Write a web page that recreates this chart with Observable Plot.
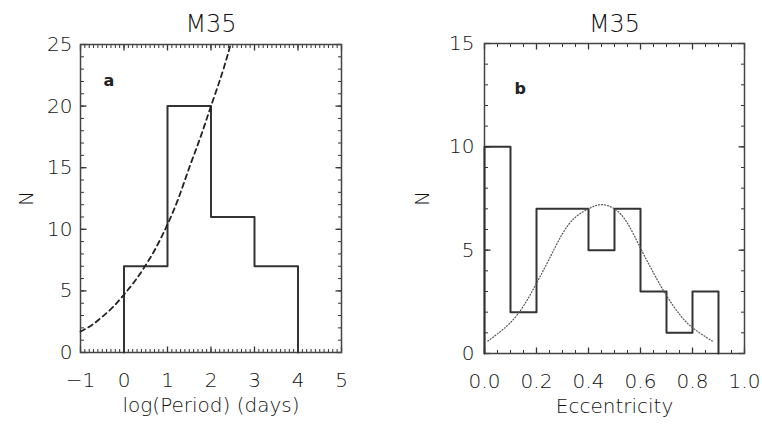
<!DOCTYPE html>
<html>
<head>
<meta charset="utf-8">
<script src="https://cdn.jsdelivr.net/npm/d3@7"></script>
<script src="https://cdn.jsdelivr.net/npm/@observablehq/plot@0.6"></script>
<style>
  html, body { margin: 0; padding: 0; background: #fff; }
  #wrap { display: flex; width: 762px; height: 424px; }
</style>
</head>
<body>
<div id="wrap"></div>
<script>
// ---- Panel a: log(Period) histogram ----
const periodEdges = [0, 1, 2, 3, 4];
const periodCounts = [7, 20, 11, 7];
const periodFitX = [-1, -0.75, -0.5, -0.25, 0, 0.25, 0.5, 0.75, 1, 1.25, 1.5, 1.75, 2, 2.25, 2.45];
const periodFitY = [1.7, 2.2, 2.9, 3.7, 4.7, 5.8, 7.1, 8.6, 10.4, 12.5, 15.0, 17.4, 20.0, 22.6, 25.0];
const periodTicks = [-1, 0, 1, 2, 3, 4, 5];
const periodCountTicks = [0, 5, 10, 15, 20, 25];

// ---- Panel b: eccentricity histogram ----
const eccEdges = [0, 0.1, 0.2, 0.3, 0.4, 0.5, 0.6, 0.7, 0.8, 0.9];
const eccCounts = [10, 2, 7, 7, 5, 7, 3, 1, 3];
const eccFitX = [0.013, 0.05, 0.1, 0.15, 0.2, 0.25, 0.3, 0.35, 0.4, 0.446, 0.5, 0.55, 0.6, 0.65, 0.7, 0.75, 0.8, 0.876];
const eccFitY = [0.6, 0.95, 1.5, 2.3, 3.4, 4.6, 5.8, 6.6, 7.0, 7.2, 7.0, 6.3, 5.1, 3.9, 2.8, 1.9, 1.25, 0.6];
const eccTicks = [0, 0.2, 0.4, 0.6, 0.8, 1.0];
const eccCountTicks = [0, 5, 10, 15];

const titles = ["M35", "M35"];
const panelLetters = ["a", "b"];
const xLabels = ["log(Period) (days)", "Eccentricity"];
const yLabel = "N";

function steps(edges, counts) {
  const pts = [{x: edges[0], y: 0}];
  counts.forEach((c, i) => { pts.push({x: edges[i], y: c}, {x: edges[i + 1], y: c}); });
  pts.push({x: edges[edges.length - 1], y: 0});
  return pts;
}
function pairs(xs, ys) { return xs.map((x, i) => ({x, y: ys[i]})); }

// inward box ticks on all four sides (IDL style); lengths in pixels converted to scale units
function boxTicks(xd, yd, xMajor, xMinor, yMajor, yMinor, fw, fh) {
  const M = 6, m = 3.5;
  const ky = (yd[1] - yd[0]) / fh, kx = (xd[1] - xd[0]) / fw;
  const segs = (major) => {
    const out = [];
    const lenX = (major ? M : m);
    for (const v of (major ? xMajor : xMinor)) {
      out.push({a: v, b: v, c: yd[0], d: yd[0] + lenX * ky});
      out.push({a: v, b: v, c: yd[1] - lenX * ky, d: yd[1]});
    }
    for (const v of (major ? yMajor : yMinor)) {
      out.push({a: xd[0], b: xd[0] + lenX * kx, c: v, d: v});
      out.push({a: xd[1] - lenX * kx, b: xd[1], c: v, d: v});
    }
    return out;
  };
  return [
    Plot.link(segs(false), {x1: "a", x2: "b", y1: "c", y2: "d", stroke: "#333", strokeWidth: 1}),
    Plot.link(segs(true), {x1: "a", x2: "b", y1: "c", y2: "d", stroke: "#333", strokeWidth: 1.3})
  ];
}

const font = {fontFamily: "DejaVu Sans", fontSize: "20px", color: "#111", background: "white", fontWeight: 200};

// Panel a
{
  const W = 381, H = 424, mL = 80, mR = 40, mT = 44, mB = 72;
  const fw = W - mL - mR, fh = H - mT - mB;
  const xd = [-1, 5], yd = [0, 25];
  const plot = Plot.plot({
    width: W, height: H, marginLeft: mL, marginRight: mR, marginTop: mT, marginBottom: mB,
    x: {domain: xd},
    y: {domain: yd},
    style: font,
    marks: [
      ...boxTicks(xd, yd, periodTicks, d3.range(-1, 5.0001, 0.1), periodCountTicks, d3.range(0, 25.0001, 1), fw, fh),
      Plot.frame({stroke: "#444", strokeWidth: 1.5}),
      Plot.axisX(periodTicks, {tickSize: 0, tickPadding: 20, label: xLabels[0], labelAnchor: "center", labelOffset: 59, labelArrow: "none"}),
      Plot.axisY(periodCountTicks, {tickSize: 0, tickPadding: 8, label: yLabel, labelAnchor: "center", labelOffset: 62, labelArrow: "none"}),
      Plot.line(steps(periodEdges, periodCounts), {x: "x", y: "y", stroke: "#333", strokeWidth: 2}),
      Plot.line(pairs(periodFitX, periodFitY), {x: "x", y: "y", stroke: "#222", strokeWidth: 1.8, strokeDasharray: "5,4", curve: "natural"}),
      Plot.text([panelLetters[0]], {frameAnchor: "top-left", dx: 23, dy: 30, fontWeight: "bold", fontSize: 16, fill: "#222"}),
      Plot.text([titles[0]], {frameAnchor: "top", lineAnchor: "middle", dy: -20.5, fontSize: 24})
    ]
  });
  document.getElementById("wrap").append(plot);
}

// Panel b
{
  const W = 381, H = 424, mL = 103, mR = 18, mT = 43, mB = 71;
  const fw = W - mL - mR, fh = H - mT - mB;
  const xd = [0, 1], yd = [0, 15];
  const plot = Plot.plot({
    width: W, height: H, marginLeft: mL, marginRight: mR, marginTop: mT, marginBottom: mB,
    x: {domain: xd},
    y: {domain: yd},
    style: font,
    marks: [
      ...boxTicks(xd, yd, eccTicks, d3.range(0, 1.0001, 0.05), eccCountTicks, d3.range(0, 15.0001, 1), fw, fh),
      Plot.frame({stroke: "#444", strokeWidth: 1.5}),
      Plot.axisX(eccTicks, {tickSize: 0, tickPadding: 20, tickFormat: d3.format(".1f"), label: xLabels[1], labelAnchor: "center", labelOffset: 59, labelArrow: "none"}),
      Plot.axisY(eccCountTicks, {tickSize: 0, tickPadding: 10, label: yLabel, labelAnchor: "center", labelOffset: 70, labelArrow: "none"}),
      Plot.line(steps(eccEdges, eccCounts), {x: "x", y: "y", stroke: "#333", strokeWidth: 2}),
      Plot.line(pairs(eccFitX, eccFitY), {x: "x", y: "y", stroke: "#555", strokeWidth: 1.2, strokeDasharray: "1,2", curve: "natural"}),
      Plot.text([panelLetters[1]], {frameAnchor: "top-left", dx: 30, dy: 39, fontWeight: "bold", fontSize: 16, fill: "#222"}),
      Plot.text([titles[1]], {frameAnchor: "top", lineAnchor: "middle", dy: -19.5, fontSize: 24})
    ]
  });
  document.getElementById("wrap").append(plot);
}
</script>
</body>
</html>
